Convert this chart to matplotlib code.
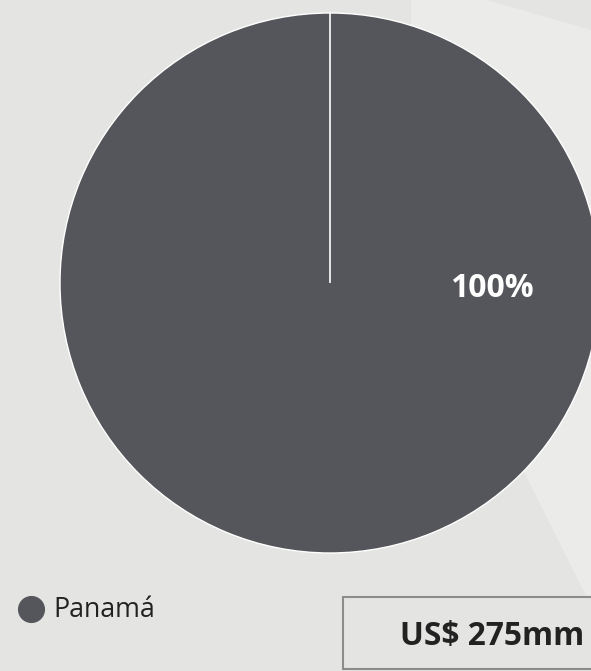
import matplotlib
matplotlib.use("Agg")
import numpy as np
import matplotlib.pyplot as plt
from matplotlib.patches import Polygon, Rectangle
from matplotlib.lines import Line2D

# ---- data ----
categories = ["Panamá"]
values = [275]
total_label = "US$ 275mm"
colors = ["#55565b"]

W, H = 591, 671
BG = "#e4e4e2"
LIGHT = "#ebebea"

plt.rcParams['font.family'] = ['Open Sans', 'DejaVu Sans']

fig = plt.figure(figsize=(W / 100, H / 100), dpi=100)
fig.patch.set_facecolor(BG)

def fx(px):
    return px / W

def fy(py):
    return 1 - py / H

# lighter background shape on the right
poly = Polygon([(fx(411), fy(0)), (fx(487), fy(0)), (fx(591), fy(30)),
                (fx(591), fy(600)), (fx(588), fy(600)), (fx(523), fy(470)),
                (fx(411), fy(300))],
               closed=True, transform=fig.transFigure, facecolor=LIGHT,
               edgecolor="none", zorder=0)
fig.add_artist(poly)

# pie axes: centre (330,283), radius 270 px
cx, cy, r = 330, 283, 270
ax = fig.add_axes([fx(cx - r), fy(cy + r), 2 * r / W, 2 * r / H])
ax.set_facecolor("none")
start = 90
wedges, _ = ax.pie(values, colors=colors, startangle=start, counterclock=False,
                   radius=1, wedgeprops=dict(edgecolor="white", linewidth=1.0))
# radial slice edges (a single full wedge does not draw them)
tot = sum(values)
ang = start
for v in values:
    a = np.deg2rad(ang)
    ax.plot([0, np.cos(a)], [0, np.sin(a)], color="white", lw=1.2,
            solid_capstyle="butt", zorder=5)
    ang -= v / tot * 360
ax.set_xlim(-1, 1)
ax.set_ylim(-1, 1)
ax.set_aspect("equal")
ax.axis("off")

for v in values:
    ax.text(0.60, -0.02, f"{v / tot * 100:.0f}%", color="white",
            fontsize=23, fontweight="bold", ha="center", va="center")

# legend
for i, (c, col) in enumerate(zip(categories, colors)):
    fig.add_artist(Line2D([fx(31)], [fy(609)], marker="o", markersize=18.5,
                          color=col, linestyle="none",
                          transform=fig.transFigure))
    fig.text(fx(53), fy(610), c, fontsize=19.3, color="#222222",
             ha="left", va="center")

# total box
rect = Rectangle((fx(343), fy(669)), fx(300), (669 - 597) / H,
                 transform=fig.transFigure, facecolor=BG, edgecolor="#8c8c8c",
                 linewidth=1.5, zorder=2)
fig.add_artist(rect)
fig.text(fx(492), fy(636), total_label, fontsize=22.8, fontweight="bold",
         color="#222222", ha="center", va="center", zorder=3)

fig.savefig("out.png", dpi=100, facecolor=BG)
